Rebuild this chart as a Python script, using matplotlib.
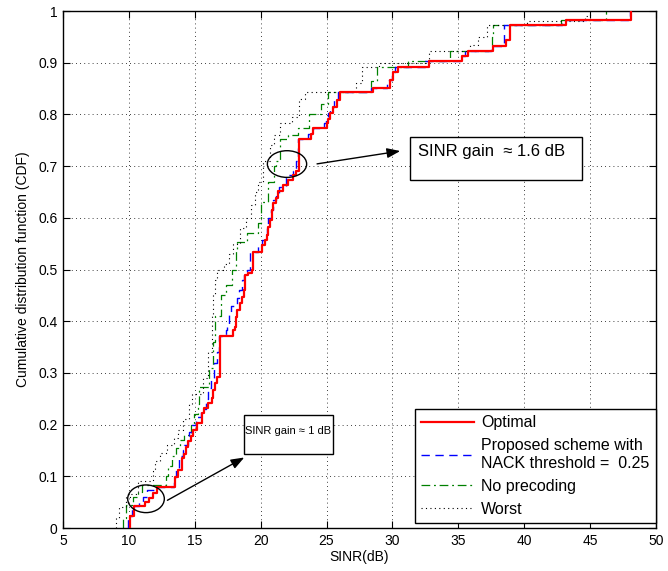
import matplotlib as mpl
mpl.use("Agg")
import matplotlib.pyplot as plt
from matplotlib.patches import Ellipse, Rectangle

mpl.rcParams.update(
    {
        "font.family": ["Liberation Sans", "DejaVu Sans"],
        "font.size": 10,
        "axes.linewidth": 1.0,
        "xtick.direction": "in",
        "ytick.direction": "in",
        "xtick.top": True,
        "ytick.right": True,
    }
)

# step points of each empirical CDF: SINR (dB) where the step happens, CDF after it
opt_x = [10.1, 10.4, 11.2, 11.55, 11.85, 12.1, 13.5, 13.75, 14.0, 14.2, 14.33, 14.5,
         14.69, 14.89, 15.19, 15.52, 15.72, 16.03, 16.28, 16.4, 16.53, 16.66, 16.9,
         17.9, 18.05, 18.13, 18.18, 18.43, 18.56, 18.73, 18.85, 19.06, 19.32, 19.4,
         20.12, 20.33, 20.45, 20.58, 20.7, 20.83, 20.96, 21.2, 21.34, 21.72, 22.1,
         22.48, 22.7, 22.93, 23.79, 23.99, 25.0, 25.13, 25.26, 25.46, 25.77, 26.02,
         28.5, 29.8, 30.06, 30.44, 32.8, 35.3, 35.7, 37.65, 38.6, 38.9, 43.2, 48.1]
opt_cdf = [0.023, 0.042, 0.051, 0.059, 0.068, 0.080, 0.099, 0.112, 0.135, 0.144, 0.157,
           0.168, 0.177, 0.19, 0.203, 0.222, 0.232, 0.241, 0.251, 0.267, 0.28, 0.293,
           0.371, 0.383, 0.389, 0.409, 0.422, 0.435, 0.447, 0.46, 0.489, 0.493, 0.499,
           0.534, 0.547, 0.557, 0.567, 0.583, 0.596, 0.615, 0.628, 0.638, 0.651, 0.663,
           0.673, 0.683, 0.69, 0.752, 0.762, 0.773, 0.783, 0.792, 0.802, 0.815, 0.828,
           0.843, 0.852, 0.867, 0.883, 0.892, 0.903, 0.913, 0.923, 0.932, 0.943, 0.973,
           0.983, 1.0]

prop_x = [9.9, 10.2, 10.8, 11.1, 11.4, 12.0, 13.4, 13.6, 13.8, 14.1, 14.2, 14.45, 14.6,
          14.8, 15.1, 15.45, 15.85, 16.0, 16.2, 16.45, 16.7, 16.85, 17.35, 17.45, 17.6,
          17.75, 18.2, 18.35, 18.6, 18.7, 19.0, 19.2, 19.8, 20.1, 20.3, 20.45, 20.58,
          20.75, 20.9, 21.2, 21.4, 21.9, 22.45, 22.7, 22.8, 23.6, 24.0, 24.8, 24.95,
          25.1, 25.3, 25.6, 25.9, 28.4, 29.6, 29.95, 30.2, 32.5, 35.1, 35.5, 37.5,
          38.46, 38.5, 42.9, 48.06]
prop_cdf = [0.023, 0.042, 0.051, 0.06, 0.073, 0.08, 0.099, 0.112, 0.14, 0.15, 0.16,
            0.175, 0.185, 0.2, 0.215, 0.23, 0.25, 0.27, 0.29, 0.32, 0.34, 0.371, 0.383,
            0.395, 0.415, 0.43, 0.445, 0.46, 0.48, 0.49, 0.5, 0.534, 0.547, 0.557, 0.567,
            0.583, 0.6, 0.615, 0.635, 0.645, 0.66, 0.683, 0.69, 0.71, 0.752, 0.762, 0.773,
            0.783, 0.792, 0.802, 0.815, 0.828, 0.843, 0.852, 0.867, 0.883, 0.892, 0.903,
            0.913, 0.923, 0.932, 0.95, 0.973, 0.983, 1.0]

noprec_x = [9.55, 9.8, 10.3, 10.7, 11.0, 12.85, 13.0, 13.3, 13.6, 13.9, 14.2, 14.7,
            14.95, 15.25, 15.3, 16.1, 16.35, 16.5, 17.0, 17.4, 17.8, 18.1, 18.2, 19.0,
            19.8, 20.0, 20.55, 21.0, 21.2, 21.45, 22.1, 22.8, 23.7, 24.6, 25.1, 28.4,
            28.8, 31.2, 34.4, 37.55, 37.6, 42.8, 46.2]
noprec_cdf = [0.02, 0.045, 0.06, 0.07, 0.083, 0.1, 0.12, 0.14, 0.155, 0.17, 0.18, 0.2,
              0.22, 0.24, 0.272, 0.31, 0.36, 0.41, 0.45, 0.47, 0.5, 0.54, 0.554, 0.57,
              0.59, 0.63, 0.67, 0.7, 0.71, 0.752, 0.76, 0.773, 0.8, 0.82, 0.843, 0.865,
              0.892, 0.903, 0.923, 0.95, 0.973, 0.983, 1.0]

worst_x = [9.0, 9.25, 9.8, 10.1, 10.7, 11.8, 12.0, 12.35, 12.9, 13.4, 13.7, 14.1, 14.6,
           14.8, 15.6, 16.0, 16.3, 16.4, 16.5, 16.7, 17.2, 17.6, 17.9, 18.4, 18.9, 19.3,
           19.6, 19.8, 20.2, 20.7, 21.0, 21.5, 22.4, 22.9, 23.4, 27.2, 27.7, 29.0, 32.8,
           35.9, 36.5, 37.2, 40.2, 44.6, 45.0]
worst_cdf = [0.02, 0.04, 0.06, 0.066, 0.09, 0.11, 0.13, 0.145, 0.16, 0.175, 0.19, 0.21,
             0.24, 0.26, 0.29, 0.34, 0.41, 0.45, 0.48, 0.5, 0.51, 0.53, 0.55, 0.58, 0.6,
             0.625, 0.65, 0.67, 0.71, 0.74, 0.76, 0.783, 0.795, 0.83, 0.843, 0.86, 0.892,
             0.9, 0.923, 0.935, 0.95, 0.973, 0.98, 0.99, 1.0]

labels = ["Optimal", "Proposed scheme with\nNACK threshold =  0.25", "No precoding", "Worst"]


def cdf_line(xs, ys):
    # start the staircase on the x axis
    return [xs[0]] + xs, [0.0] + ys


fig = plt.figure(figsize=(6.68, 5.71), dpi=100)
ax = fig.add_axes([0.0943, 0.0753, 0.8877, 0.9054])

x, y = cdf_line(opt_x, opt_cdf)
ax.step(x, y, where="post", color="#ff0000", lw=1.6, label=labels[0], zorder=4)
x, y = cdf_line(prop_x, prop_cdf)
ax.step(x, y, where="post", color="#0000ff", lw=1.0, dashes=(6, 4), label=labels[1], zorder=3)
x, y = cdf_line(noprec_x, noprec_cdf)
ax.step(x, y, where="post", color="#008000", lw=0.9, dashes=(7, 3, 1.5, 3), label=labels[2], zorder=2)
x, y = cdf_line(worst_x, worst_cdf)
ax.step(x, y, where="post", color="black", lw=0.8, dashes=(1, 3), label=labels[3], zorder=2)

ax.set_xlim(5, 50)
ax.set_ylim(0, 1)
ax.set_xticks(range(5, 51, 5))
ax.set_yticks([i / 10 for i in range(11)])
ax.set_yticklabels(["0", "0.1", "0.2", "0.3", "0.4", "0.5", "0.6", "0.7", "0.8", "0.9", "1"])
ax.tick_params(length=5, width=0.8, labelsize=10, pad=4)
ax.grid(True, color="black", ls=(0, (1, 4)), lw=0.6)
ax.set_axisbelow(True)
ax.set_xlabel("SINR(dB)", fontsize=10, labelpad=2)
ax.set_ylabel("Cumulative distribution function (CDF)", fontsize=10, labelpad=6)

# annotations: ellipses, arrows and text boxes
ax.add_patch(Ellipse((11.3, 0.0565), 2.78, 0.0535, fill=False, color="black", lw=1.0, zorder=5))
ax.add_patch(Ellipse((22.0, 0.704), 2.98, 0.0516, fill=False, color="black", lw=1.0, zorder=5))
ax.annotate("", xy=(18.94, 0.139), xytext=(12.74, 0.051),
            arrowprops=dict(arrowstyle="-|>,head_length=0.8,head_width=0.3", color="black", lw=1.0))
ax.annotate("", xy=(30.8, 0.73), xytext=(24.07, 0.7035),
            arrowprops=dict(arrowstyle="-|>,head_length=0.8,head_width=0.3", color="black", lw=1.0))
ax.add_patch(Rectangle((18.73, 0.143), 6.76, 0.0756, fill=True, fc="white", ec="black", lw=1.0, zorder=5))
ax.add_patch(Rectangle((31.33, 0.673), 13.05, 0.083, fill=True, fc="white", ec="black", lw=1.0, zorder=5))
ax.text(22.11, 0.188, "SINR gain \u2248 1 dB", fontsize=8, va="center", ha="center", zorder=6)
ax.text(31.93, 0.729, "SINR gain  \u2248 1.6 dB", fontsize=12, va="center", ha="left", zorder=6)

leg = ax.legend(loc="lower right", bbox_to_anchor=(1.0, 0.0097), borderaxespad=0,
                fontsize=11.5, handlelength=3.3, handletextpad=0.45, labelspacing=0.5,
                borderpad=0.4, fancybox=False, framealpha=1)
leg.get_frame().set_edgecolor("black")
leg.get_frame().set_linewidth(1.0)

fig.savefig("out.png", dpi=100)
